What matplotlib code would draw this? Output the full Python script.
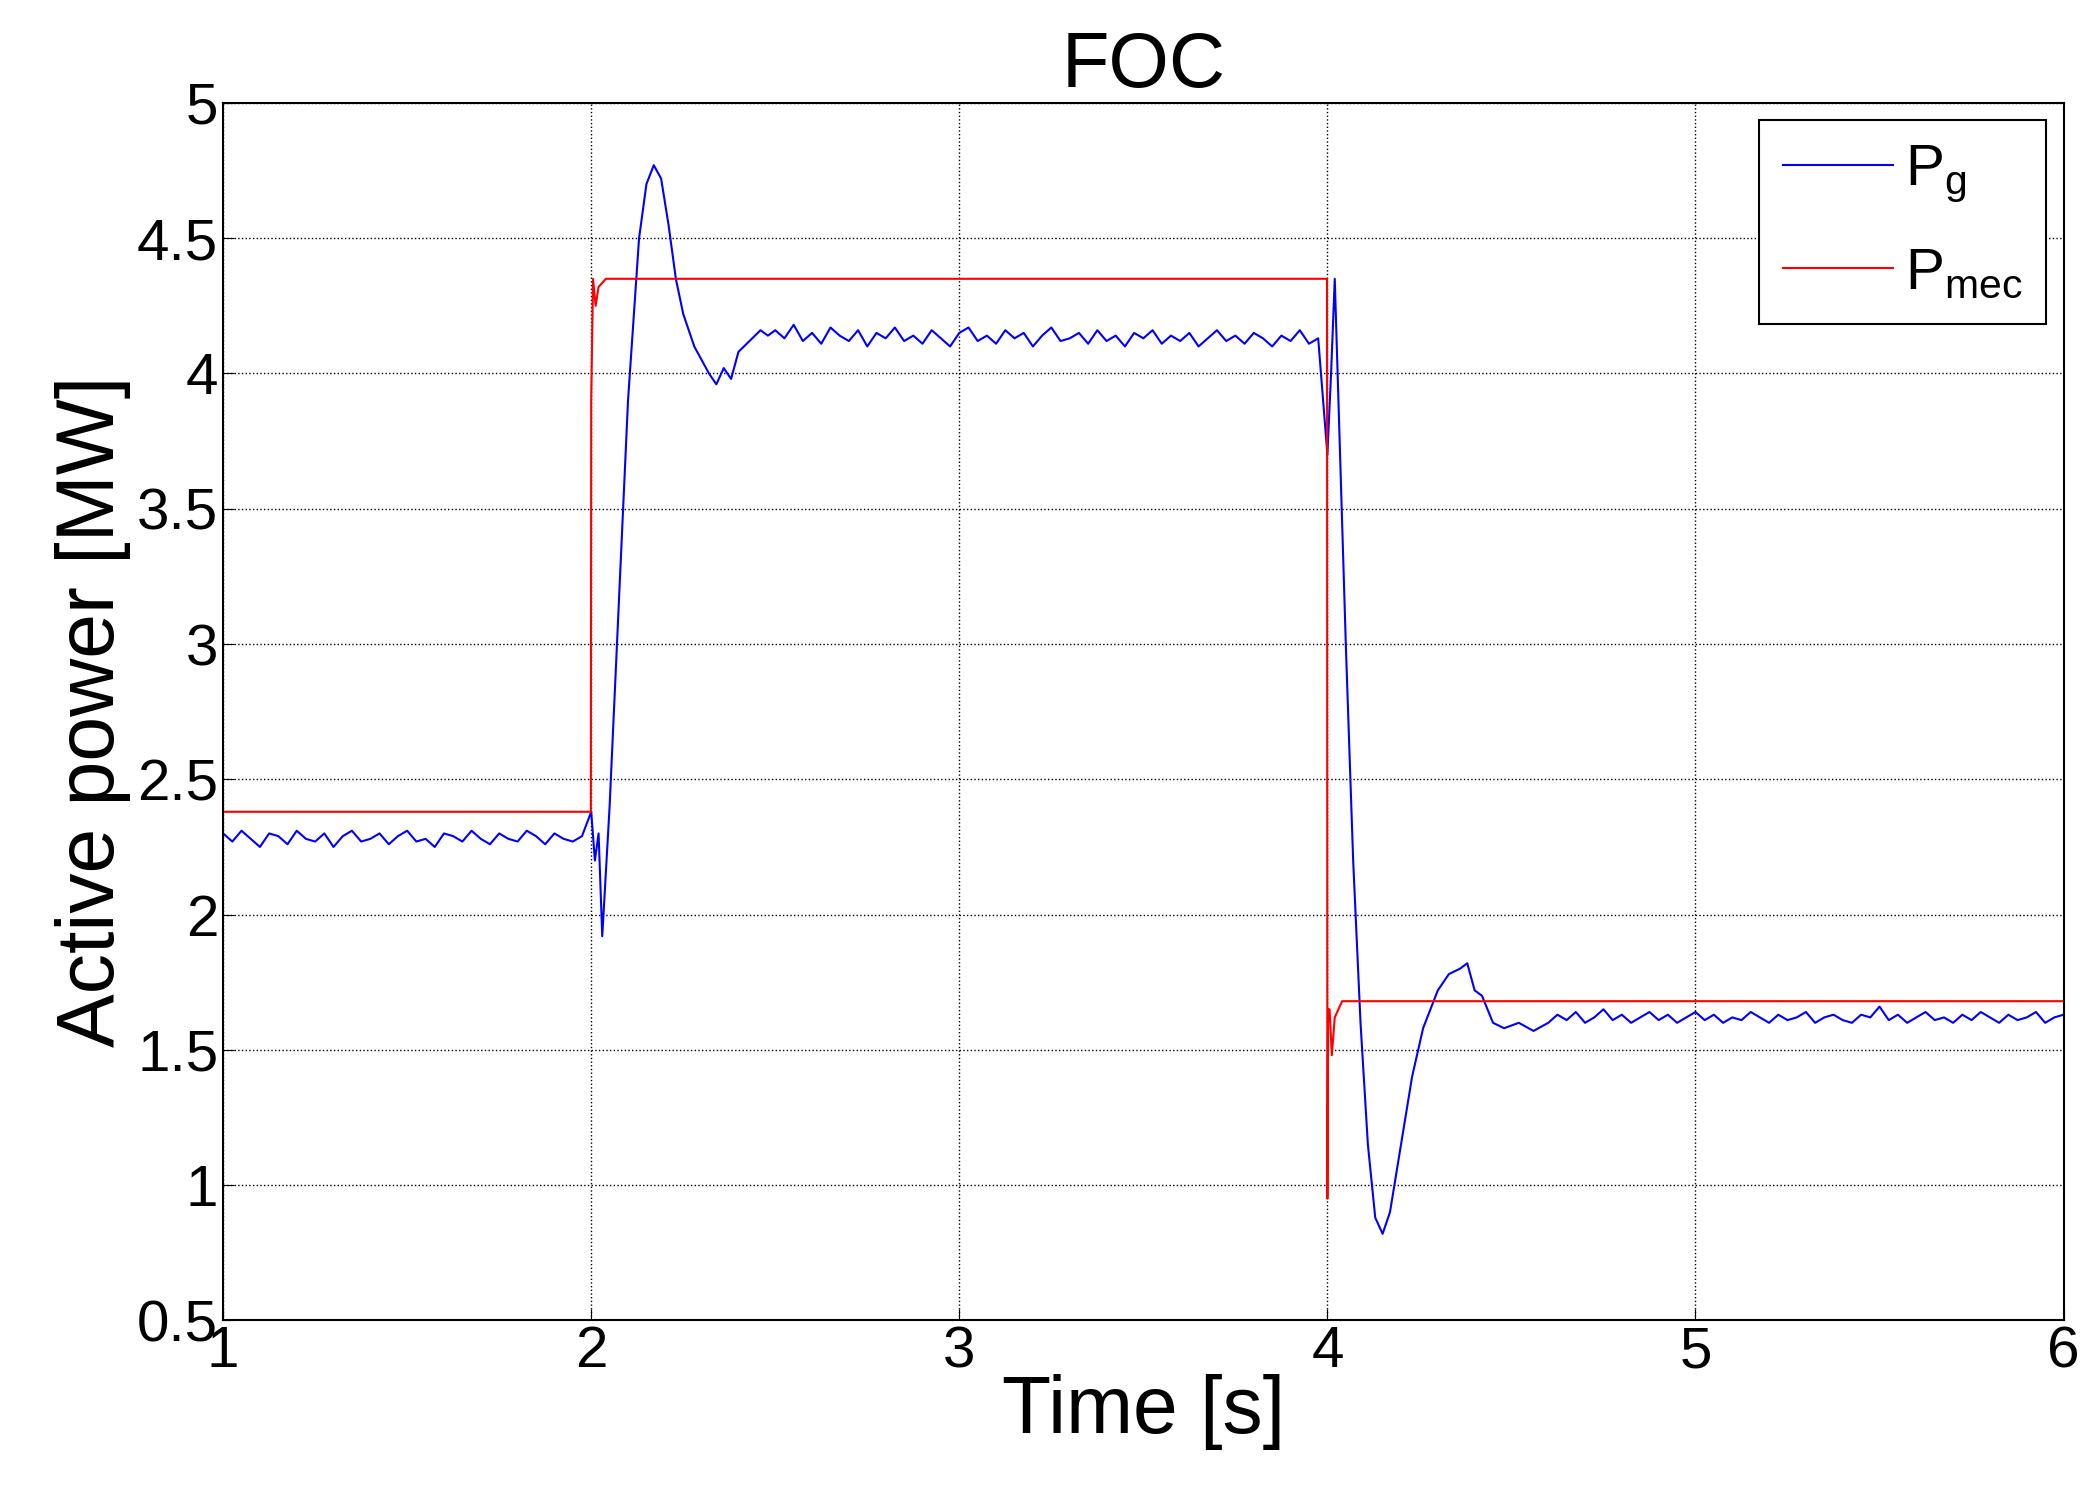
import numpy as np
import matplotlib.pyplot as plt

plt.rcParams['font.family'] = ['Liberation Sans', 'DejaVu Sans']
plt.rcParams['mathtext.fontset'] = 'custom'
plt.rcParams['mathtext.rm'] = 'Liberation Sans'

# Pmec
pm_t = [1.0, 1.999, 2.0, 2.005, 2.012, 2.02, 2.04, 3.999, 4.0, 4.002, 4.006, 4.012, 4.02, 4.04, 6.0]
pm_v = [2.38, 2.38, 3.9, 4.35, 4.25, 4.32, 4.35, 4.35, 0.95, 1.65, 1.65, 1.48, 1.62, 1.68, 1.68]

# Pg steady segments
seg1_v = [2.30, 2.27, 2.31, 2.28, 2.25, 2.30, 2.29, 2.26, 2.31, 2.28, 2.27, 2.30, 2.25, 2.29, 2.31, 2.27,
          2.28, 2.30, 2.26, 2.29, 2.31, 2.27, 2.28, 2.25, 2.30, 2.29, 2.27, 2.31, 2.28, 2.26, 2.30, 2.28,
          2.27, 2.31, 2.29, 2.26, 2.30, 2.28, 2.27, 2.29]
tr1_t = [2.0, 2.01, 2.02, 2.03, 2.05, 2.08, 2.1, 2.13, 2.15, 2.17, 2.19, 2.21, 2.23, 2.25, 2.28, 2.3,
         2.32, 2.34, 2.36, 2.38, 2.4, 2.43, 2.46, 2.48]
tr1_v = [2.38, 2.2, 2.3, 1.92, 2.4, 3.3, 3.9, 4.5, 4.7, 4.77, 4.72, 4.55, 4.35, 4.22, 4.1, 4.05,
         4.0, 3.96, 4.02, 3.98, 4.08, 4.12, 4.16, 4.14]
seg2_v = [4.16, 4.13, 4.18, 4.12, 4.15, 4.11, 4.17, 4.14, 4.12, 4.16, 4.10, 4.15, 4.13, 4.17, 4.12, 4.14,
          4.11, 4.16, 4.13, 4.10, 4.15, 4.17, 4.12, 4.14, 4.11, 4.16, 4.13, 4.15, 4.10, 4.14, 4.17, 4.12,
          4.13, 4.15, 4.11, 4.16, 4.12, 4.14, 4.10, 4.15, 4.13, 4.16, 4.11, 4.14, 4.12, 4.15, 4.10, 4.13,
          4.16, 4.12, 4.14, 4.11, 4.15, 4.13, 4.10, 4.14, 4.12, 4.16, 4.11, 4.13]
tr2_t = [4.0, 4.01, 4.02, 4.03, 4.05, 4.07, 4.09, 4.11, 4.13, 4.15, 4.17, 4.2, 4.23, 4.26, 4.3, 4.33,
         4.36, 4.38, 4.4, 4.42, 4.45, 4.48, 4.52, 4.56]
tr2_v = [3.7, 4.0, 4.35, 3.9, 3.0, 2.2, 1.6, 1.15, 0.88, 0.82, 0.9, 1.15, 1.4, 1.58, 1.72, 1.78,
         1.8, 1.82, 1.72, 1.7, 1.6, 1.58, 1.6, 1.57]
seg3_v = [1.60, 1.63, 1.61, 1.64, 1.60, 1.62, 1.65, 1.61, 1.63, 1.60, 1.62, 1.64, 1.61, 1.63, 1.60, 1.62,
          1.64, 1.61, 1.63, 1.60, 1.62, 1.61, 1.64, 1.62, 1.60, 1.63, 1.61, 1.62, 1.64, 1.60, 1.62, 1.63,
          1.61, 1.60, 1.63, 1.62, 1.66, 1.61, 1.63, 1.60, 1.62, 1.64, 1.61, 1.62, 1.60, 1.63, 1.61, 1.64,
          1.62, 1.60, 1.63, 1.61, 1.62, 1.64, 1.60, 1.62, 1.63]

x_ticks = [1, 2, 3, 4, 5, 6]
y_ticks = [0.5, 1, 1.5, 2, 2.5, 3, 3.5, 4, 4.5, 5]

seg1_t = 1.0 + 0.025 * np.arange(len(seg1_v))
seg2_t = 2.5 + 0.025 * np.arange(len(seg2_v))
seg3_t = 4.6 + 0.025 * np.arange(len(seg3_v))
pg_t = np.concatenate([seg1_t, tr1_t, seg2_t, tr2_t, seg3_t])
pg_v = np.concatenate([seg1_v, tr1_v, seg2_v, tr2_v, seg3_v])

fig = plt.figure(figsize=(20.95, 14.92), dpi=100)
ax = fig.add_axes([0.1065, 0.115, 0.8785, 0.816])
ax.plot(pg_t, pg_v, color='blue', lw=1.5, label='P$_\\mathregular{g}$')
ax.plot(pm_t, pm_v, color='red', lw=1.5, label='P$_\\mathregular{mec}$')
ax.set_xlim(1, 6)
ax.set_ylim(0.5, 5)
ax.set_xticks(x_ticks)
ax.set_yticks(y_ticks)
ax.set_yticklabels([f'{v:g}' for v in y_ticks])
ax.tick_params(labelsize=42, direction='in', length=8)
ax.grid(True, color='black', linestyle=':', lw=1)
for s in ax.spines.values():
    s.set_linewidth(1.5)
ax.set_title('FOC', fontsize=56, pad=8)
ax.set_xlabel('Time [s]', fontsize=58, labelpad=-4)
ax.set_ylabel('Active power [MW]', fontsize=58, labelpad=4)
leg = ax.legend(loc='upper right', fontsize=42, fancybox=False, framealpha=1,
                edgecolor='black', handlelength=1.9, handletextpad=0.2,
                labelspacing=0.7, borderaxespad=0.3, borderpad=0.4)
leg.get_frame().set_linewidth(1.5)
fig.savefig('out.png', dpi=100)
